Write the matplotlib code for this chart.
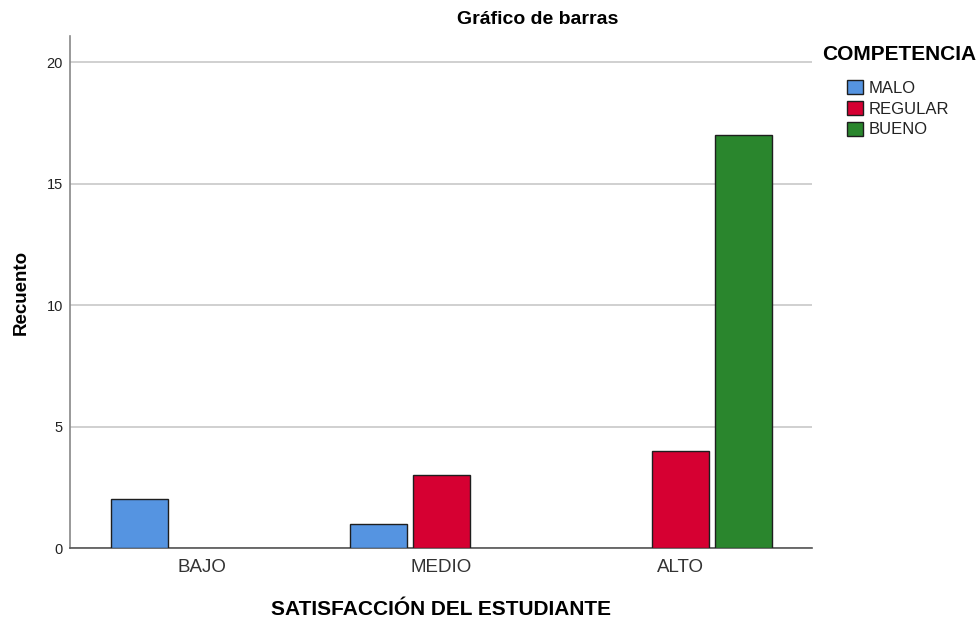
import matplotlib.pyplot as plt
import numpy as np
from matplotlib.patches import Patch

plt.rcParams['font.family'] = ['Liberation Sans', 'DejaVu Sans']

categorias = ['BAJO', 'MEDIO', 'ALTO']
series = ['MALO', 'REGULAR', 'BUENO']
malo = [2, 1, 0]
regular = [0, 3, 4]
bueno = [0, 0, 17]
colores = ['#5594E1', '#D60032', '#2A862D']

fig = plt.figure(figsize=(9.79, 6.19), dpi=100)
ax = fig.add_axes([0.0715, 0.1147, 0.7579, 0.8271])

x = np.arange(len(categorias))
ancho = 0.238
paso = 0.263
for k, (vals, col) in enumerate(zip([malo, regular, bueno], colores)):
    for i, v in enumerate(vals):
        if v > 0:
            ax.bar(x[i] + (k - 1) * paso, v, width=ancho, color=col,
                   edgecolor='#1e1e1e', linewidth=1.0, zorder=3)

ax.set_xlim(-0.554, 2.55)
ax.set_ylim(0, 21.07)
ax.set_yticks([0, 5, 10, 15, 20])
ax.set_xticks(x)
ax.set_xticklabels(categorias, fontsize=13.5, color='#333333')
ax.tick_params(axis='y', length=0, labelsize=10.5, pad=5, colors='#222222')
ax.tick_params(axis='x', length=0, pad=8)
ax.grid(axis='y', color='#c8c8c8', linewidth=1.2, zorder=0)
ax.set_axisbelow(True)
for s in ['top', 'right']:
    ax.spines[s].set_visible(False)
ax.spines['left'].set_color('#888888')
ax.spines['bottom'].set_color('#555555')
ax.spines['left'].set_linewidth(1.2)
ax.spines['bottom'].set_linewidth(1.2)

ax.set_ylabel('Recuento', fontsize=13.5, fontweight='bold', labelpad=12)
ax.set_xlabel('SATISFACCIÓN DEL ESTUDIANTE', fontsize=15, fontweight='bold', labelpad=17)
fig.text(538 / 979, 1 - 19 / 619, 'Gráfico de barras', ha='center', va='center',
         fontsize=14, fontweight='bold')

# leyenda: título aparte para dejar las entradas con sangría
fig.text(822 / 979, 1 - 55 / 619, 'COMPETENCIA', ha='left', va='center',
         fontsize=15, fontweight='bold')
handles = [Patch(facecolor=c, edgecolor='#1e1e1e', linewidth=1.0) for c in colores]
leg = fig.legend(handles, series, loc='upper left', bbox_to_anchor=(844 / 979, 1 - 77 / 619),
                 frameon=False, fontsize=12, handlelength=0.95, handleheight=0.9,
                 handletextpad=0.3, labelspacing=0.3, borderpad=0.2, borderaxespad=0)
for t in leg.get_texts():
    t.set_color('#222222')

plt.savefig('out.png', dpi=100)
